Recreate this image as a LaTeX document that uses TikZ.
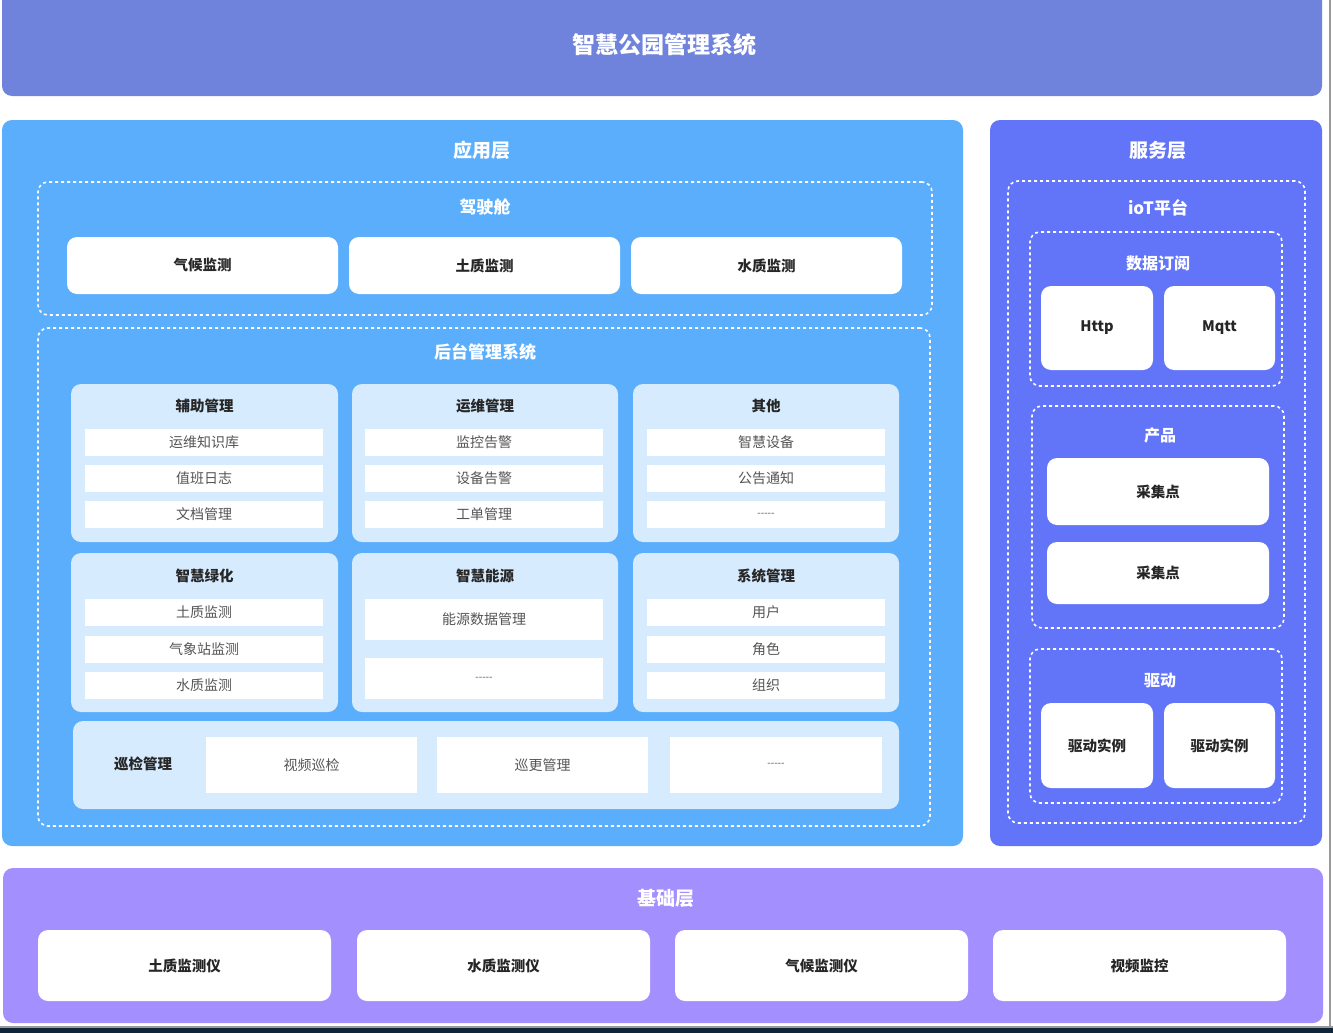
\documentclass[tikz,border=0pt]{standalone}
\usepackage{fontspec}
\setmainfont{Noto Sans CJK SC}
\definecolor{topc}{HTML}{7083DC}
\definecolor{appc}{HTML}{5AAEFC}
\definecolor{grpc}{HTML}{D7EBFE}
\definecolor{srvc}{HTML}{6275F8}
\definecolor{basec}{HTML}{A38FFD}
\definecolor{txt}{HTML}{262626}
\definecolor{itxt}{HTML}{555555}
\definecolor{edgec}{HTML}{9A9A9A}
\definecolor{darkc}{HTML}{10243A}
\newcommand\bx[7]{\node[#6, inner sep=0pt, minimum width={(#4-#2)*1pt}, minimum height={(#5-#3)*1pt}] (#1) at ({(#2+#4)/2},{(#3+#5)/2}) {#7};}
\newcommand\fivedash{-{}-{}-{}-{}-}
\tikzset{
  layer/.style={fill=#1, rounded corners=10pt, draw=none},
  dashbox/.style={draw=white, dash pattern=on 3pt off 3pt, line width=1.6pt, rounded corners=10pt},
  card/.style={fill=white, rounded corners=10pt, text=txt, font=\bfseries\fontsize{14.5}{16}\selectfont},
  grp/.style={fill=grpc, rounded corners=10pt},
  item/.style={fill=white, text=itxt, font=\fontsize{14}{16}\selectfont},
  dashitem/.style={fill=white, text=itxt, font=\fontsize{10}{12}\selectfont},
  ttl/.style={text=white, font=\bfseries\fontsize{19}{21}\selectfont, inner sep=0pt},
  subttl/.style={text=white, font=\bfseries\fontsize{17}{19}\selectfont, inner sep=0pt},
  gttl/.style={text=txt, font=\bfseries\fontsize{14.5}{16}\selectfont, inner sep=0pt},
}
\begin{document}
\begin{tikzpicture}[x=1pt, y=-1pt]
\useasboundingbox (0,0) rectangle (1333,1033);
\fill[white] (0,0) rectangle (1333,1033);
% top bar
\bx{top}{2}{-20}{1322}{96}{layer=topc}{}
\node[ttl, font=\bfseries\fontsize{23}{26}\selectfont] (toptitle) at (664,45) {智慧公园管理系统};
% application layer
\bx{app}{2}{120}{963}{846}{layer=appc}{}
\node[ttl] (apptitle) at (482,150) {应用层};
\bx{cockpit}{38}{182}{932}{315}{dashbox}{}
\node[subttl] (cockpittitle) at (485,207) {驾驶舱};
\bx{c1}{67}{237}{338}{294}{card}{气候监测}
\bx{c2}{349}{237}{620}{294}{card}{土质监测}
\bx{c3}{631}{237}{902}{294}{card}{水质监测}
\bx{backend}{38}{328}{930}{826}{dashbox}{}
\node[subttl] (backendtitle) at (485,352) {后台管理系统};
% row 1 groups
\bx{g1}{71}{384}{338}{542}{grp}{}
\bx{g2}{352}{384}{618}{542}{grp}{}
\bx{g3}{633}{384}{899}{542}{grp}{}
\node[gttl] (g1t) at (204.5,406) {辅助管理};
\node[gttl] (g2t) at (485,406) {运维管理};
\node[gttl] (g3t) at (766,406) {其他};
\bx{g1a}{85}{429}{323}{456}{item}{运维知识库}
\bx{g1b}{85}{465}{323}{492}{item}{值班日志}
\bx{g1c}{85}{501}{323}{528}{item}{文档管理}
\bx{g2a}{365}{429}{603}{456}{item}{监控告警}
\bx{g2b}{365}{465}{603}{492}{item}{设备告警}
\bx{g2c}{365}{501}{603}{528}{item}{工单管理}
\bx{g3a}{647}{429}{885}{456}{item}{智慧设备}
\bx{g3b}{647}{465}{885}{492}{item}{公告通知}
\bx{g3c}{647}{501}{885}{528}{dashitem}{\fivedash}
% row 2 groups
\bx{g4}{71}{553}{338}{712}{grp}{}
\bx{g5}{352}{553}{618}{712}{grp}{}
\bx{g6}{633}{553}{899}{712}{grp}{}
\node[gttl] (g4t) at (204.5,576) {智慧绿化};
\node[gttl] (g5t) at (485,576) {智慧能源};
\node[gttl] (g6t) at (766,576) {系统管理};
\bx{g4a}{85}{599}{323}{626}{item}{土质监测}
\bx{g4b}{85}{636}{323}{663}{item}{气象站监测}
\bx{g4c}{85}{672}{323}{699}{item}{水质监测}
\bx{g5a}{365}{599}{603}{640}{item}{能源数据管理}
\bx{g5b}{365}{658}{603}{699}{dashitem}{\fivedash}
\bx{g6a}{647}{599}{885}{626}{item}{用户}
\bx{g6b}{647}{636}{885}{663}{item}{角色}
\bx{g6c}{647}{672}{885}{699}{item}{组织}
% patrol row
\bx{patrol}{73}{721}{899}{809}{grp}{}
\node[gttl] (patrolt) at (143,764) {巡检管理};
\bx{p1}{206}{737}{417}{793}{item}{视频巡检}
\bx{p2}{437}{737}{648}{793}{item}{巡更管理}
\bx{p3}{670}{737}{882}{793}{dashitem}{\fivedash}
% service layer
\bx{srv}{990}{120}{1322}{846}{layer=srvc}{}
\node[ttl] (srvtitle) at (1158,150) {服务层};
\bx{iot}{1008}{181}{1305}{823}{dashbox}{}
\node[subttl] (iottitle) at (1158,208) {ioT平台};
\bx{sub}{1030}{232}{1282}{386}{dashbox}{}
\node[subttl, font=\bfseries\fontsize{16}{18}\selectfont] (subtitle) at (1158,263) {数据订阅};
\bx{http}{1041}{286}{1153}{370}{card}{Http}
\bx{mqtt}{1164}{286}{1275}{370}{card}{Mqtt}
\bx{prod}{1032}{406}{1284}{628}{dashbox}{}
\node[subttl, font=\bfseries\fontsize{16}{18}\selectfont] (prodtitle) at (1160,435) {产品};
\bx{cp1}{1047}{458}{1269}{525}{card}{采集点}
\bx{cp2}{1047}{542}{1269}{604}{card}{采集点}
\bx{drv}{1030}{649}{1282}{803}{dashbox}{}
\node[subttl, font=\bfseries\fontsize{16}{18}\selectfont] (drvtitle) at (1160,681) {驱动};
\bx{d1}{1041}{703}{1153}{788}{card}{驱动实例}
\bx{d2}{1164}{703}{1275}{788}{card}{驱动实例}
% base layer
\bx{base}{3}{868}{1323}{1023}{layer=basec}{}
\node[ttl] (basetitle) at (666,898) {基础层};
\bx{b1}{38}{930}{331}{1001}{card}{土质监测仪}
\bx{b2}{357}{930}{650}{1001}{card}{水质监测仪}
\bx{b3}{675}{930}{968}{1001}{card}{气候监测仪}
\bx{b4}{993}{930}{1286}{1001}{card}{视频监控}
% screenshot edges
\fill[edgec] (1328.5,0) rectangle (1331,1033);
\fill[edgec] (0,1025.5) rectangle (1333,1027.5);
\fill[darkc] (0,1027.5) rectangle (1333,1033);
\end{tikzpicture}
\end{document}
